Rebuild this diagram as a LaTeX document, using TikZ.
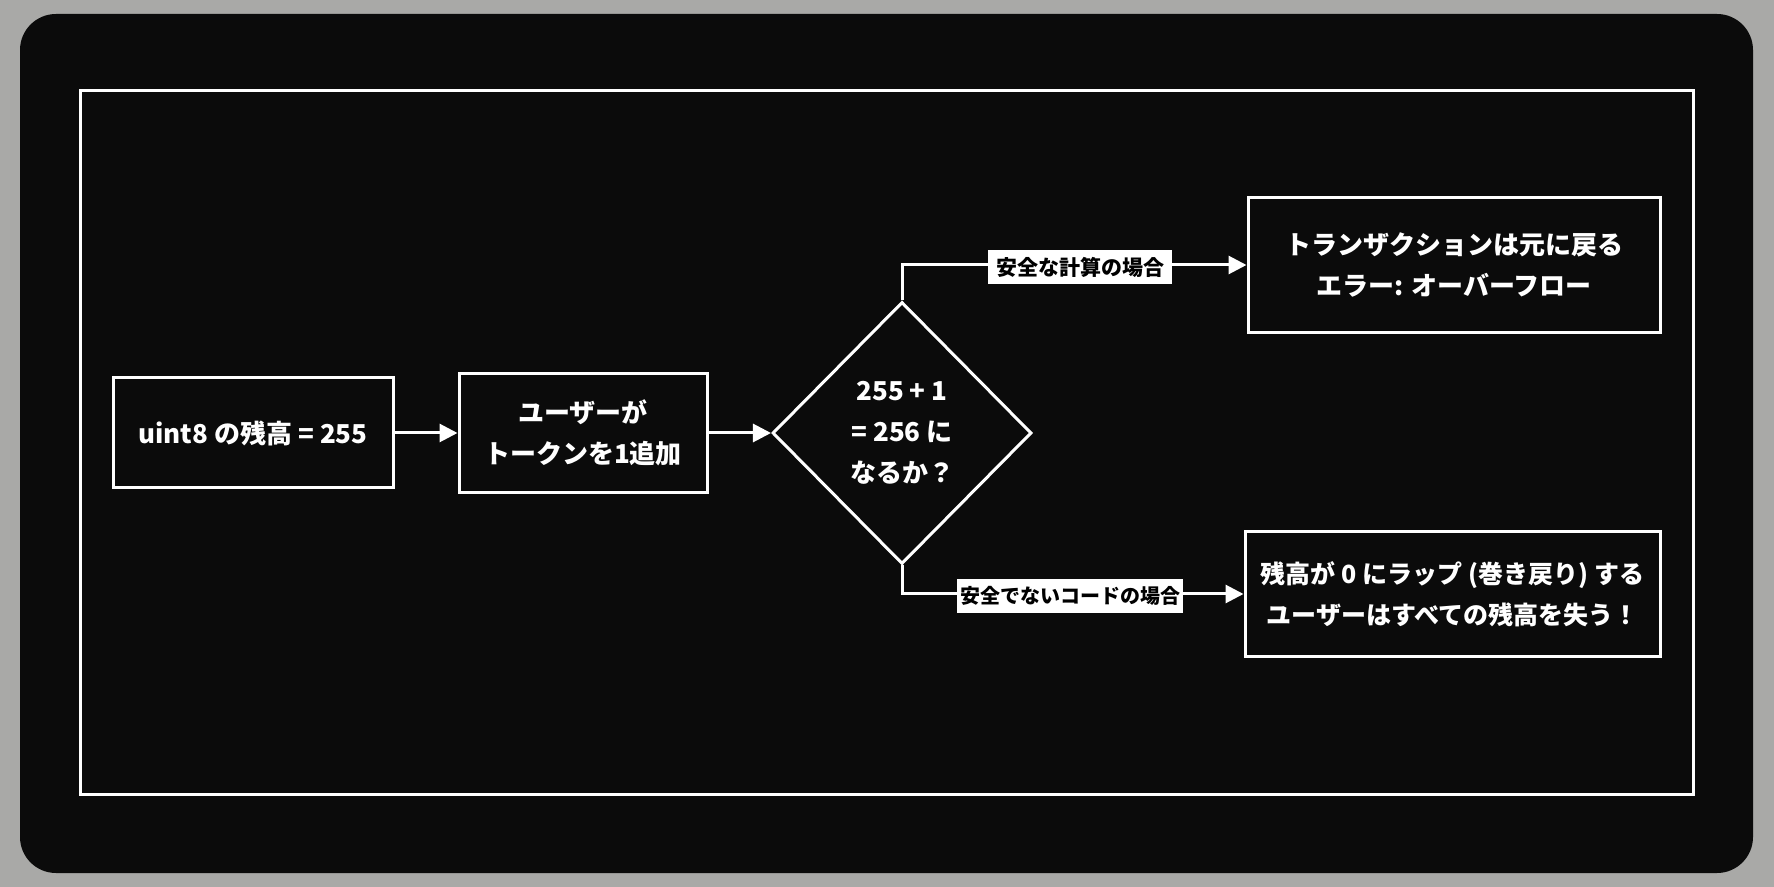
\documentclass[tikz,border=0pt]{standalone}
\usepackage{fontspec}
\setmainfont{Noto Sans CJK JP}
\usetikzlibrary{shapes.geometric,arrows.meta}
\definecolor{bggray}{HTML}{A9A9A7}
\definecolor{panel}{HTML}{0B0B0B}
\begin{document}
\begin{tikzpicture}[x=0.5pt,y=-0.5pt,
  box/.style={draw=white,line width=1.5pt,fill=panel,text=white,align=center,font=\bfseries\fontsize{13}{20.5}\selectfont,inner sep=0pt},
  dec/.style={draw=white,line width=1.5pt,shape=diamond,text=white,align=center,font=\bfseries\fontsize{13}{20.5}\selectfont,inner sep=0pt,minimum width=129.5pt,minimum height=131pt},
  lab/.style={fill=white,text=black,font=\bfseries\fontsize{10.5}{12}\selectfont,inner xsep=4pt,inner ysep=2pt,minimum height=17pt},
  arr/.style={draw=white,line width=1.5pt,-{Triangle[length=9pt,width=9pt]}}]
\useasboundingbox[fill=bggray] (0,0) rectangle (1774,887);
\fill[panel,rounded corners=18pt] (20,14) rectangle (1753,873);
\draw[white,line width=1.5pt] (80,91) rectangle (1693,794);

\node[box,minimum width=140pt,minimum height=55pt] (b1) at (253,433) {uint8 の残高 = 255};
\node[box,minimum width=124pt,minimum height=59.5pt] (b2) at (583,433) {ユーザーが\\トークンを1追加};
\node[dec] (d) at (902,433) {255 + 1\\= 256 に\\なるか？};
\node[box,minimum width=206pt,minimum height=67.5pt] (b3) at (1454,265) {トランザクションは元に戻る\\エラー: オーバーフロー};
\node[box,minimum width=207.5pt,minimum height=62.5pt,font=\bfseries\fontsize{12.5}{20.5}\selectfont] (b4) at (1452.5,594) {残高が 0 にラップ (巻き戻り) する\\ユーザーはすべての残高を失う！};

\draw[arr] (b1) -- (b2);
\draw[arr] (b2) -- (d);
\draw[arr] (d.north) |- (b3.west);
\draw[arr] (d.south) |- (b4.west);

\node[lab] (l1) at (1080,267) {安全な計算の場合};
\node[lab,inner xsep=1.5pt,font=\bfseries\fontsize{10}{12}\selectfont] (l2) at (1070,596) {安全でないコードの場合};
\end{tikzpicture}
\end{document}
